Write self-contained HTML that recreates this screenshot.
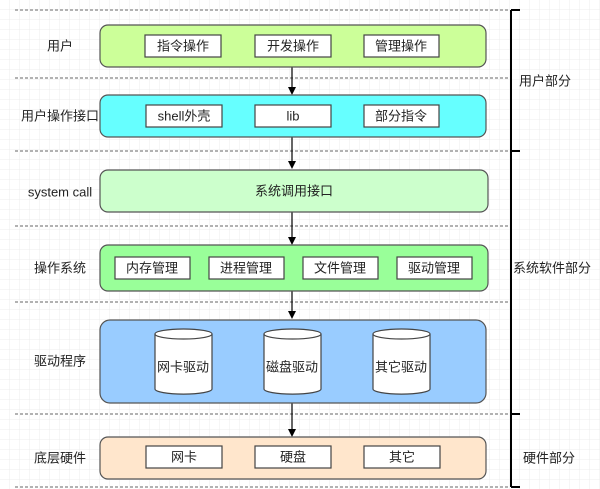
<!DOCTYPE html>
<html><head><meta charset="utf-8"><style>
body{margin:0;background:#fff}
svg{display:block}
text{font-family:"Liberation Sans","Noto Sans CJK SC",sans-serif;font-size:13px;fill:#222;dominant-baseline:central;text-anchor:middle}
</style></head><body>
<svg width="600" height="489" viewBox="0 0 600 489" xmlns="http://www.w3.org/2000/svg">
<defs>
<pattern id="g" width="10" height="10" patternUnits="userSpaceOnUse"><path d="M10 0V10H0" fill="none" stroke="#ececec" stroke-width="1"/></pattern>
</defs>
<rect width="600" height="489" fill="url(#g)"/>
<g stroke="#666" stroke-dasharray="3 2" stroke-width="1">
<line x1="15" y1="10" x2="508" y2="10"/><line x1="15" y1="78" x2="508" y2="78"/>
<line x1="15" y1="151" x2="508" y2="151"/><line x1="15" y1="226" x2="508" y2="226"/>
<line x1="15" y1="302" x2="508" y2="302"/><line x1="15" y1="414" x2="508" y2="414"/>
<line x1="15" y1="487" x2="508" y2="487"/>
</g>
<g stroke="#000" stroke-width="2" fill="none">
<path d="M511 10V487M511 10H520M511 151H520M511 414H520M511 487H520"/>
</g>
<g stroke="#000" stroke-width="1.2">
<line x1="292" y1="67" x2="292" y2="88"/><line x1="292" y1="137" x2="292" y2="162"/>
<line x1="292" y1="212" x2="292" y2="238"/><line x1="292" y1="291" x2="292" y2="312"/>
<line x1="292" y1="403" x2="292" y2="430"/>
</g>
<g fill="#000">
<path d="M288 87L296 87L292 95Z"/><path d="M288 161L296 161L292 169Z"/>
<path d="M288 237L296 237L292 245Z"/><path d="M288 311L296 311L292 319Z"/>
<path d="M288 429L296 429L292 437Z"/>
</g>
<g stroke="#555" stroke-width="1.2">
<rect x="100" y="25" width="386" height="42" rx="8" fill="#ccff99"/>
<rect x="100" y="95" width="386" height="42" rx="8" fill="#66ffff"/>
<rect x="100" y="170" width="388" height="42" rx="8" fill="#ccffcc"/>
<rect x="100" y="245" width="388" height="46" rx="8" fill="#99ff99"/>
<rect x="100" y="320" width="386" height="83" rx="10" fill="#99ccff"/>
<rect x="100" y="437" width="386" height="42" rx="8" fill="#ffe6cc"/>
</g>
<g stroke="#444" stroke-width="1.2" fill="#fff">
<rect x="145" y="35" width="76" height="22"/><rect x="255" y="35" width="76" height="22"/><rect x="364" y="35" width="75" height="22"/>
<rect x="146" y="105" width="76" height="22"/><rect x="255" y="105" width="76" height="22"/><rect x="364" y="105" width="75" height="22"/>
<rect x="115" y="257" width="75" height="22"/><rect x="209" y="257" width="75" height="22"/><rect x="303" y="257" width="75" height="22"/><rect x="397" y="257" width="75" height="22"/>
<rect x="146" y="446" width="76" height="22"/><rect x="255" y="446" width="76" height="22"/><rect x="364" y="446" width="76" height="22"/>
</g>
<g stroke="#444" stroke-width="1.2" fill="#fff">
<path d="M155 334V389A28 5 0 0 0 212 389V334"/><ellipse cx="183.5" cy="334" rx="28.5" ry="5"/>
<path d="M264 334V389A28 5 0 0 0 321 389V334"/><ellipse cx="292.5" cy="334" rx="28.5" ry="5"/>
<path d="M373 334V389A28 5 0 0 0 430 389V334"/><ellipse cx="401.5" cy="334" rx="28.5" ry="5"/>
</g>
<g style="font-size:12.5px">
<text x="60" y="46">用户</text><text x="60" y="116">用户操作接口</text>
<text x="60" y="192">system call</text><text x="60" y="268">操作系统</text>
<text x="60" y="361">驱动程序</text><text x="60" y="458">底层硬件</text>
</g>
<text x="183" y="46">指令操作</text><text x="293" y="46">开发操作</text><text x="401" y="46">管理操作</text>
<text x="184" y="116">shell外壳</text><text x="293" y="116">lib</text><text x="401" y="116">部分指令</text>
<text x="294" y="191">系统调用接口</text>
<text x="152" y="268">内存管理</text><text x="246" y="268">进程管理</text><text x="340" y="268">文件管理</text><text x="434" y="268">驱动管理</text>
<text x="183" y="367">网卡驱动</text><text x="292" y="367">磁盘驱动</text><text x="401" y="367">其它驱动</text>
<text x="184" y="457">网卡</text><text x="293" y="457">硬盘</text><text x="402" y="457">其它</text>
<text x="545" y="81">用户部分</text><text x="552" y="268">系统软件部分</text><text x="549" y="458">硬件部分</text>
</svg>
</body></html>
